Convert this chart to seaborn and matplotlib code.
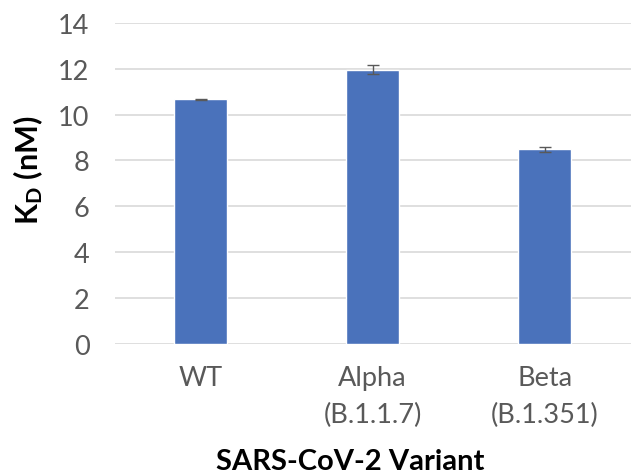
import pandas as pd
import seaborn as sns
import matplotlib.pyplot as plt

variants = ["WT", "Alpha\n(B.1.1.7)", "Beta\n(B.1.351)"]
kd_values = [10.66, 11.95, 8.48]
kd_errors = [0.04, 0.2, 0.1]

df = pd.DataFrame({"variant": variants, "kd": kd_values})

sns.set_theme(style="white")
plt.rcParams["font.family"] = ["Lato", "DejaVu Sans"]
plt.rcParams["mathtext.fontset"] = "custom"
plt.rcParams["mathtext.rm"] = "Lato:bold"
plt.rcParams["mathtext.default"] = "rm"

fig = plt.figure(figsize=(6.37, 4.77), dpi=100)
ax = fig.add_axes([0.18, 0.277, 0.81, 0.673])

sns.barplot(data=df, x="variant", y="kd", color="#4a72bb", width=0.31,
            saturation=1, ax=ax, zorder=3)
ax.errorbar(range(len(variants)), kd_values, yerr=kd_errors, fmt="none",
            ecolor="#595959", elinewidth=1, capsize=4, capthick=1, zorder=4)

ax.set_ylim(0, 14)
ax.set_yticks(range(0, 15, 2))
ax.set_xlim(-0.5, 2.5)
ax.yaxis.grid(True, color="#D9D9D9", linewidth=1.2, zorder=0)
for s in ax.spines.values():
    s.set_visible(False)
ax.tick_params(axis="both", length=0, labelsize=19.5, labelcolor="#595959")
ax.tick_params(axis="y", pad=18)
ax.tick_params(axis="x", pad=15)
for lbl in ax.get_xticklabels():
    lbl.set_linespacing(1.6)

ax.set_xlabel("SARS-CoV-2 Variant", fontsize=21, fontweight="bold",
              color="black", va="baseline")
ax.xaxis.set_label_coords(0.457, -0.39)
ax.set_ylabel("K$_{D}$ (nM)", fontsize=22, fontweight="bold",
              color="black", va="center")
ax.yaxis.set_label_coords(-0.168, 0.545)

fig.savefig("out.png", dpi=100)
